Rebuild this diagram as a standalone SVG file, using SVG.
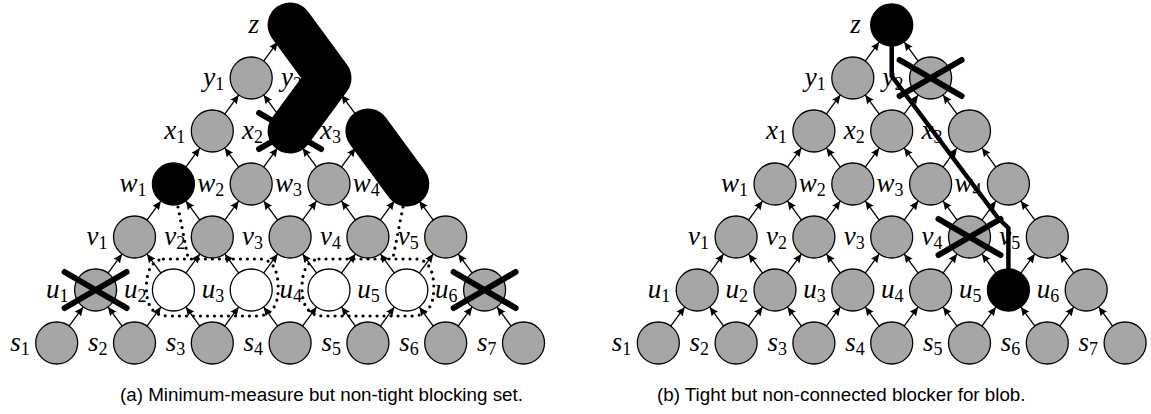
<svg xmlns="http://www.w3.org/2000/svg" width="1151" height="414" viewBox="0 0 1151 414">
<style>
.edge{fill:none;stroke:#000;stroke-width:1.3;marker-end:url(#ah)}
.node circle{fill:#a6a6a6;stroke:#000;stroke-width:1.3}
.node.blk circle{fill:#000}
.node.wht circle{fill:#fff}
.lbl{font-family:"Liberation Serif","Times New Roman",serif;font-style:italic;font-size:27px;text-anchor:end;fill:#000}
.sub{font-size:18px;font-style:normal}
.cross{stroke:#000;stroke-width:6;stroke-linecap:round;fill:none}
.blob{stroke:#000;stroke-width:45;stroke-linecap:round;stroke-linejoin:round;fill:none}
.dots{stroke:#000;stroke-width:3.2;stroke-linecap:round;stroke-dasharray:0 7;fill:none}
.path{stroke:#000;stroke-width:4.5;stroke-linejoin:round;stroke-linecap:round;fill:none}
.cap{font-family:"Liberation Sans",Arial,sans-serif;font-size:18.8px;fill:#000}
</style>
<defs>
<marker id="ah" markerUnits="userSpaceOnUse" markerWidth="11" markerHeight="10" refX="9" refY="4" orient="auto">
<path d="M0,0 L9,4 L0,8 Q2,4 0,0Z" fill="#000"/>
</marker>
</defs>

<g id="connectors">
<!-- left diagram -->
<path class="edge" d="M69.13,326.07 l14.04,-19.14"/>
<path class="edge" d="M122.07,326.07 l-14.04,-19.14"/>
<path class="edge" d="M146.93,326.07 l14.04,-19.14"/>
<path class="edge" d="M199.87,326.07 l-14.04,-19.14"/>
<path class="edge" d="M224.73,326.07 l14.04,-19.14"/>
<path class="edge" d="M277.67,326.07 l-14.04,-19.14"/>
<path class="edge" d="M302.53,326.07 l14.04,-19.14"/>
<path class="edge" d="M355.47,326.07 l-14.04,-19.14"/>
<path class="edge" d="M380.33,326.07 l14.04,-19.14"/>
<path class="edge" d="M433.27,326.07 l-14.04,-19.14"/>
<path class="edge" d="M458.13,326.07 l14.04,-19.14"/>
<path class="edge" d="M511.07,326.07 l-14.04,-19.14"/>
<path class="edge" d="M108.03,273.07 l14.04,-19.14"/>
<path class="edge" d="M160.97,273.07 l-14.04,-19.14"/>
<path class="edge" d="M185.83,273.07 l14.04,-19.14"/>
<path class="edge" d="M238.77,273.07 l-14.04,-19.14"/>
<path class="edge" d="M263.63,273.07 l14.04,-19.14"/>
<path class="edge" d="M316.57,273.07 l-14.04,-19.14"/>
<path class="edge" d="M341.43,273.07 l14.04,-19.14"/>
<path class="edge" d="M394.37,273.07 l-14.04,-19.14"/>
<path class="edge" d="M419.23,273.07 l14.04,-19.14"/>
<path class="edge" d="M472.17,273.07 l-14.04,-19.14"/>
<path class="edge" d="M146.93,220.07 l14.04,-19.14"/>
<path class="edge" d="M199.87,220.07 l-14.04,-19.14"/>
<path class="edge" d="M224.73,220.07 l14.04,-19.14"/>
<path class="edge" d="M277.67,220.07 l-14.04,-19.14"/>
<path class="edge" d="M302.53,220.07 l14.04,-19.14"/>
<path class="edge" d="M355.47,220.07 l-14.04,-19.14"/>
<path class="edge" d="M380.33,220.07 l14.04,-19.14"/>
<path class="edge" d="M433.27,220.07 l-14.04,-19.14"/>
<path class="edge" d="M185.83,167.07 l14.04,-19.14"/>
<path class="edge" d="M238.77,167.07 l-14.04,-19.14"/>
<path class="edge" d="M263.63,167.07 l14.04,-19.14"/>
<path class="edge" d="M316.57,167.07 l-14.04,-19.14"/>
<path class="edge" d="M341.43,167.07 l14.04,-19.14"/>
<path class="edge" d="M394.37,167.07 l-14.04,-19.14"/>
<path class="edge" d="M224.73,114.07 l14.04,-19.14"/>
<path class="edge" d="M277.67,114.07 l-14.04,-19.14"/>
<path class="edge" d="M302.53,114.07 l14.04,-19.14"/>
<path class="edge" d="M355.47,114.07 l-14.04,-19.14"/>
<path class="edge" d="M263.63,61.07 l14.04,-19.14"/>
<path class="edge" d="M316.57,61.07 l-14.04,-19.14"/>
<!-- right diagram -->
<path class="edge" d="M670.73,326.07 l14.04,-19.14"/>
<path class="edge" d="M723.67,326.07 l-14.04,-19.14"/>
<path class="edge" d="M748.53,326.07 l14.04,-19.14"/>
<path class="edge" d="M801.47,326.07 l-14.04,-19.14"/>
<path class="edge" d="M826.33,326.07 l14.04,-19.14"/>
<path class="edge" d="M879.27,326.07 l-14.04,-19.14"/>
<path class="edge" d="M904.13,326.07 l14.04,-19.14"/>
<path class="edge" d="M957.07,326.07 l-14.04,-19.14"/>
<path class="edge" d="M981.93,326.07 l14.04,-19.14"/>
<path class="edge" d="M1034.87,326.07 l-14.04,-19.14"/>
<path class="edge" d="M1059.73,326.07 l14.04,-19.14"/>
<path class="edge" d="M1112.67,326.07 l-14.04,-19.14"/>
<path class="edge" d="M709.63,273.07 l14.04,-19.14"/>
<path class="edge" d="M762.57,273.07 l-14.04,-19.14"/>
<path class="edge" d="M787.43,273.07 l14.04,-19.14"/>
<path class="edge" d="M840.37,273.07 l-14.04,-19.14"/>
<path class="edge" d="M865.23,273.07 l14.04,-19.14"/>
<path class="edge" d="M918.17,273.07 l-14.04,-19.14"/>
<path class="edge" d="M943.03,273.07 l14.04,-19.14"/>
<path class="edge" d="M995.97,273.07 l-14.04,-19.14"/>
<path class="edge" d="M1020.83,273.07 l14.04,-19.14"/>
<path class="edge" d="M1073.77,273.07 l-14.04,-19.14"/>
<path class="edge" d="M748.53,220.07 l14.04,-19.14"/>
<path class="edge" d="M801.47,220.07 l-14.04,-19.14"/>
<path class="edge" d="M826.33,220.07 l14.04,-19.14"/>
<path class="edge" d="M879.27,220.07 l-14.04,-19.14"/>
<path class="edge" d="M904.13,220.07 l14.04,-19.14"/>
<path class="edge" d="M957.07,220.07 l-14.04,-19.14"/>
<path class="edge" d="M981.93,220.07 l14.04,-19.14"/>
<path class="edge" d="M1034.87,220.07 l-14.04,-19.14"/>
<path class="edge" d="M787.43,167.07 l14.04,-19.14"/>
<path class="edge" d="M840.37,167.07 l-14.04,-19.14"/>
<path class="edge" d="M865.23,167.07 l14.04,-19.14"/>
<path class="edge" d="M918.17,167.07 l-14.04,-19.14"/>
<path class="edge" d="M943.03,167.07 l14.04,-19.14"/>
<path class="edge" d="M995.97,167.07 l-14.04,-19.14"/>
<path class="edge" d="M826.33,114.07 l14.04,-19.14"/>
<path class="edge" d="M879.27,114.07 l-14.04,-19.14"/>
<path class="edge" d="M904.13,114.07 l14.04,-19.14"/>
<path class="edge" d="M957.07,114.07 l-14.04,-19.14"/>
<path class="edge" d="M865.23,61.07 l14.04,-19.14"/>
<path class="edge" d="M918.17,61.07 l-14.04,-19.14"/>
</g>

<!-- left diagram nodes -->
<g id="a-s1" class="node"><circle cx="56.7" cy="343" r="21"/><text class="lbl" x="29.7" y="351">s<tspan class="sub" dy="4">1</tspan></text></g>
<g id="a-s2" class="node"><circle cx="134.5" cy="343" r="21"/><text class="lbl" x="107.5" y="351">s<tspan class="sub" dy="4">2</tspan></text></g>
<g id="a-s3" class="node"><circle cx="212.3" cy="343" r="21"/><text class="lbl" x="185.3" y="351">s<tspan class="sub" dy="4">3</tspan></text></g>
<g id="a-s4" class="node"><circle cx="290.1" cy="343" r="21"/><text class="lbl" x="263.1" y="351">s<tspan class="sub" dy="4">4</tspan></text></g>
<g id="a-s5" class="node"><circle cx="367.9" cy="343" r="21"/><text class="lbl" x="340.9" y="351">s<tspan class="sub" dy="4">5</tspan></text></g>
<g id="a-s6" class="node"><circle cx="445.7" cy="343" r="21"/><text class="lbl" x="418.7" y="351">s<tspan class="sub" dy="4">6</tspan></text></g>
<g id="a-s7" class="node"><circle cx="523.5" cy="343" r="21"/><text class="lbl" x="496.5" y="351">s<tspan class="sub" dy="4">7</tspan></text></g>
<g id="a-u1" class="node"><circle cx="95.6" cy="290" r="21"/><text class="lbl" x="68.6" y="298">u<tspan class="sub" dy="4">1</tspan></text></g>
<g id="a-u2" class="node wht"><circle cx="173.4" cy="290" r="21"/><text class="lbl" x="146.4" y="298">u<tspan class="sub" dy="4">2</tspan></text></g>
<g id="a-u3" class="node wht"><circle cx="251.2" cy="290" r="21"/><text class="lbl" x="224.2" y="298">u<tspan class="sub" dy="4">3</tspan></text></g>
<g id="a-u4" class="node wht"><circle cx="329" cy="290" r="21"/><text class="lbl" x="302" y="298">u<tspan class="sub" dy="4">4</tspan></text></g>
<g id="a-u5" class="node wht"><circle cx="406.8" cy="290" r="21"/><text class="lbl" x="379.8" y="298">u<tspan class="sub" dy="4">5</tspan></text></g>
<g id="a-u6" class="node"><circle cx="484.6" cy="290" r="21"/><text class="lbl" x="457.6" y="298">u<tspan class="sub" dy="4">6</tspan></text></g>
<g id="a-v1" class="node"><circle cx="134.5" cy="237" r="21"/><text class="lbl" x="107.5" y="245">v<tspan class="sub" dy="4">1</tspan></text></g>
<g id="a-v2" class="node"><circle cx="212.3" cy="237" r="21"/><text class="lbl" x="185.3" y="245">v<tspan class="sub" dy="4">2</tspan></text></g>
<g id="a-v3" class="node"><circle cx="290.1" cy="237" r="21"/><text class="lbl" x="263.1" y="245">v<tspan class="sub" dy="4">3</tspan></text></g>
<g id="a-v4" class="node"><circle cx="367.9" cy="237" r="21"/><text class="lbl" x="340.9" y="245">v<tspan class="sub" dy="4">4</tspan></text></g>
<g id="a-v5" class="node"><circle cx="445.7" cy="237" r="21"/><text class="lbl" x="418.7" y="245">v<tspan class="sub" dy="4">5</tspan></text></g>
<g id="a-w1" class="node blk"><circle cx="173.4" cy="184" r="21"/><text class="lbl" x="146.4" y="192">w<tspan class="sub" dy="4">1</tspan></text></g>
<g id="a-w2" class="node"><circle cx="251.2" cy="184" r="21"/><text class="lbl" x="224.2" y="192">w<tspan class="sub" dy="4">2</tspan></text></g>
<g id="a-w3" class="node"><circle cx="329" cy="184" r="21"/><text class="lbl" x="302" y="192">w<tspan class="sub" dy="4">3</tspan></text></g>
<g id="a-w4" class="node"><circle cx="406.8" cy="184" r="21"/><text class="lbl" x="379.8" y="192">w<tspan class="sub" dy="4">4</tspan></text></g>
<g id="a-x1" class="node"><circle cx="212.3" cy="131" r="21"/><text class="lbl" x="185.3" y="139">x<tspan class="sub" dy="4">1</tspan></text></g>
<g id="a-x2" class="node"><circle cx="290.1" cy="131" r="21"/><text class="lbl" x="263.1" y="139">x<tspan class="sub" dy="4">2</tspan></text></g>
<g id="a-x3" class="node"><circle cx="367.9" cy="131" r="21"/><text class="lbl" x="340.9" y="139">x<tspan class="sub" dy="4">3</tspan></text></g>
<g id="a-y1" class="node"><circle cx="251.2" cy="78" r="21"/><text class="lbl" x="224.2" y="86">y<tspan class="sub" dy="4">1</tspan></text></g>
<g id="a-y2" class="node"><circle cx="329" cy="78" r="21"/><text class="lbl" x="302" y="86">y<tspan class="sub" dy="4">2</tspan></text></g>
<g id="a-z" class="node"><circle cx="290.1" cy="25" r="21"/><text class="lbl" x="259.1" y="33">z</text></g>

<!-- right diagram nodes -->
<g id="b-s1" class="node"><circle cx="658.3" cy="343" r="21"/><text class="lbl" x="631.3" y="351">s<tspan class="sub" dy="4">1</tspan></text></g>
<g id="b-s2" class="node"><circle cx="736.1" cy="343" r="21"/><text class="lbl" x="709.1" y="351">s<tspan class="sub" dy="4">2</tspan></text></g>
<g id="b-s3" class="node"><circle cx="813.9" cy="343" r="21"/><text class="lbl" x="786.9" y="351">s<tspan class="sub" dy="4">3</tspan></text></g>
<g id="b-s4" class="node"><circle cx="891.7" cy="343" r="21"/><text class="lbl" x="864.7" y="351">s<tspan class="sub" dy="4">4</tspan></text></g>
<g id="b-s5" class="node"><circle cx="969.5" cy="343" r="21"/><text class="lbl" x="942.5" y="351">s<tspan class="sub" dy="4">5</tspan></text></g>
<g id="b-s6" class="node"><circle cx="1047.3" cy="343" r="21"/><text class="lbl" x="1020.3" y="351">s<tspan class="sub" dy="4">6</tspan></text></g>
<g id="b-s7" class="node"><circle cx="1125.1" cy="343" r="21"/><text class="lbl" x="1098.1" y="351">s<tspan class="sub" dy="4">7</tspan></text></g>
<g id="b-u1" class="node"><circle cx="697.2" cy="290" r="21"/><text class="lbl" x="670.2" y="298">u<tspan class="sub" dy="4">1</tspan></text></g>
<g id="b-u2" class="node"><circle cx="775" cy="290" r="21"/><text class="lbl" x="748" y="298">u<tspan class="sub" dy="4">2</tspan></text></g>
<g id="b-u3" class="node"><circle cx="852.8" cy="290" r="21"/><text class="lbl" x="825.8" y="298">u<tspan class="sub" dy="4">3</tspan></text></g>
<g id="b-u4" class="node"><circle cx="930.6" cy="290" r="21"/><text class="lbl" x="903.6" y="298">u<tspan class="sub" dy="4">4</tspan></text></g>
<g id="b-u5" class="node blk"><circle cx="1008.4" cy="290" r="21"/><text class="lbl" x="981.4" y="298">u<tspan class="sub" dy="4">5</tspan></text></g>
<g id="b-u6" class="node"><circle cx="1086.2" cy="290" r="21"/><text class="lbl" x="1059.2" y="298">u<tspan class="sub" dy="4">6</tspan></text></g>
<g id="b-v1" class="node"><circle cx="736.1" cy="237" r="21"/><text class="lbl" x="709.1" y="245">v<tspan class="sub" dy="4">1</tspan></text></g>
<g id="b-v2" class="node"><circle cx="813.9" cy="237" r="21"/><text class="lbl" x="786.9" y="245">v<tspan class="sub" dy="4">2</tspan></text></g>
<g id="b-v3" class="node"><circle cx="891.7" cy="237" r="21"/><text class="lbl" x="864.7" y="245">v<tspan class="sub" dy="4">3</tspan></text></g>
<g id="b-v4" class="node"><circle cx="969.5" cy="237" r="21"/><text class="lbl" x="942.5" y="245">v<tspan class="sub" dy="4">4</tspan></text></g>
<g id="b-v5" class="node"><circle cx="1047.3" cy="237" r="21"/><text class="lbl" x="1020.3" y="245">v<tspan class="sub" dy="4">5</tspan></text></g>
<g id="b-w1" class="node"><circle cx="775" cy="184" r="21"/><text class="lbl" x="748" y="192">w<tspan class="sub" dy="4">1</tspan></text></g>
<g id="b-w2" class="node"><circle cx="852.8" cy="184" r="21"/><text class="lbl" x="825.8" y="192">w<tspan class="sub" dy="4">2</tspan></text></g>
<g id="b-w3" class="node"><circle cx="930.6" cy="184" r="21"/><text class="lbl" x="903.6" y="192">w<tspan class="sub" dy="4">3</tspan></text></g>
<g id="b-w4" class="node"><circle cx="1008.4" cy="184" r="21"/><text class="lbl" x="981.4" y="192">w<tspan class="sub" dy="4">4</tspan></text></g>
<g id="b-x1" class="node"><circle cx="813.9" cy="131" r="21"/><text class="lbl" x="786.9" y="139">x<tspan class="sub" dy="4">1</tspan></text></g>
<g id="b-x2" class="node"><circle cx="891.7" cy="131" r="21"/><text class="lbl" x="864.7" y="139">x<tspan class="sub" dy="4">2</tspan></text></g>
<g id="b-x3" class="node"><circle cx="969.5" cy="131" r="21"/><text class="lbl" x="942.5" y="139">x<tspan class="sub" dy="4">3</tspan></text></g>
<g id="b-y1" class="node"><circle cx="852.8" cy="78" r="21"/><text class="lbl" x="825.8" y="86">y<tspan class="sub" dy="4">1</tspan></text></g>
<g id="b-y2" class="node"><circle cx="930.6" cy="78" r="21"/><text class="lbl" x="903.6" y="86">y<tspan class="sub" dy="4">2</tspan></text></g>
<g id="b-z" class="node blk"><circle cx="891.7" cy="25" r="21"/><text class="lbl" x="860.7" y="33">z</text></g>

<!-- left overlays -->
<g id="a-marks">
<path class="cross" d="M64.6,272 L126.6,308 M64.6,308 L126.6,272"/>
<path class="cross" d="M453.6,272 L515.6,308 M453.6,308 L515.6,272"/>
<path class="cross" d="M259.1,113 L321.1,149 M259.1,149 L321.1,113"/>
<path class="dots" d="M163.4,259 L261.2,259 Q278.2,261 278.2,288 Q278.2,316 256.2,316 L168.4,316 Q146.4,316 146.4,288 Q146.4,261 163.4,259Z"/>
<path class="dots" d="M319,259 L416.8,259 Q433.8,261 433.8,288 Q433.8,316 411.8,316 L324,316 Q302,316 302,288 Q302,261 319,259Z"/>
<path class="dots" d="M178,207 L188,258"/>
<path class="dots" d="M403,207 L393,258"/>
<path class="blob" d="M290.1,25 L329,78 L290.1,131"/>
<path class="blob" d="M367.9,131 L406.8,184"/>
</g>

<!-- right overlays -->
<g id="b-marks">
<path class="cross" d="M899.6,60 L961.6,96 M899.6,96 L961.6,60"/>
<path class="cross" d="M938.5,219 L1000.5,255 M938.5,255 L1000.5,219"/>
<path class="path" d="M891.7,25 L891.7,76 L998,218 L1008.4,228 L1008.4,280"/>
</g>

<g id="captions">
<text class="cap" x="120" y="401">(a)  Minimum-measure but non-tight blocking set.</text>
<text class="cap" x="657" y="401">(b)  Tight but non-connected blocker for blob.</text>
</g>
</svg>
